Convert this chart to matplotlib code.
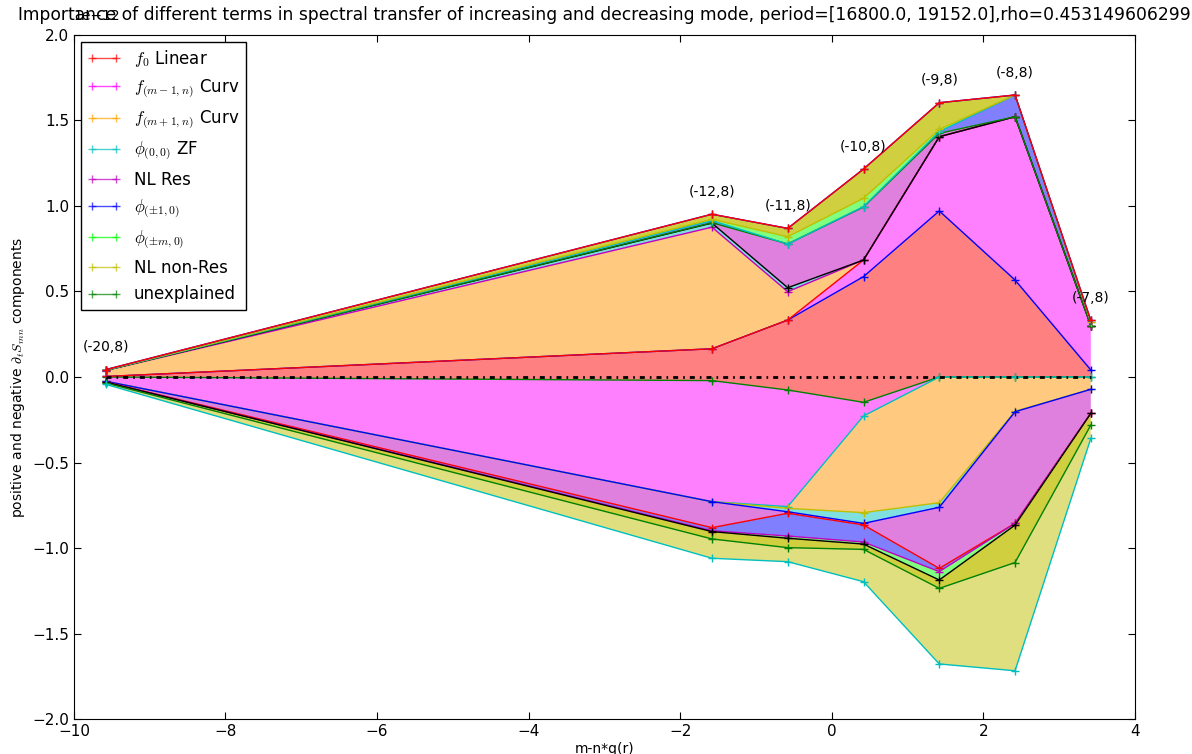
import numpy as np
import matplotlib
matplotlib.use('Agg')
import matplotlib.pyplot as plt
from matplotlib.lines import Line2D

plt.rcParams['mathtext.fontset'] = 'cm'

scale = 1e-12

x = [-9.58, -1.58, -0.58, 0.42, 1.42, 2.42, 3.42]
mode_labels = ['(-20,8)', '(-12,8)', '(-11,8)', '(-10,8)', '(-9,8)', '(-8,8)', '(-7,8)']

term_names = [r'$f_0$ Linear', r'$f_{(m-1,n)}$ Curv', r'$f_{(m+1,n)}$ Curv',
              r'$\phi_{(0,0)}$ ZF', 'NL Res', r'$\phi_{(\pm1,0)}$',
              r'$\phi_{(\pm m,0)}$', 'NL non-Res', 'unexplained']

# positive contributions (units of 1e-12)
pos_linear = [0.003, 0.165, 0.333, 0.587, 0.971, 0.567, 0.041]
pos_curv_m1 = [0.0, 0.0, 0.0, 0.097, 0.434, 0.955, 0.26]
pos_curv_p1 = [0.035, 0.711, 0.166, 0.0, 0.0, 0.0, 0.0]
pos_zf = [0.001, 0.024, 0.023, 0.0, 0.0, 0.0, 0.0]
pos_nl_res = [0.0, 0.002, 0.256, 0.31, 0.02, 0.0, 0.0]
pos_phi_1 = [0.001, 0.012, 0.0, 0.002, 0.01, 0.127, 0.02]
pos_phi_m = [0.001, 0.008, 0.042, 0.049, 0.013, 0.0, 0.0]
pos_nl_nonres = [0.002, 0.03, 0.049, 0.171, 0.156, 0.0, 0.01]
pos_unexpl = [0.0, 0.0, 0.0, 0.0, 0.0, 0.0, 0.0]

# negative contributions (units of 1e-12)
neg_linear = [0.0, -0.021, -0.076, -0.148, 0.0, 0.0, 0.0]
neg_curv_m1 = [-0.025, -0.708, -0.682, -0.08, 0.0, 0.0, 0.0]
neg_curv_p1 = [0.0, 0.0, -0.01, -0.565, -0.735, -0.2, -0.072]
neg_zf = [0.0, 0.0, -0.02, -0.063, -0.027, -0.003, 0.0]
neg_nl_res = [-0.004, -0.152, -0.009, -0.009, -0.357, -0.653, -0.14]
neg_phi_1 = [-0.001, -0.018, -0.133, -0.1, -0.019, 0.0, 0.0]
neg_phi_m = [0.0, -0.005, -0.013, -0.012, -0.049, -0.01, 0.0]
neg_nl_nonres = [-0.005, -0.043, -0.055, -0.031, -0.049, -0.219, -0.069]
neg_unexpl = [-0.008, -0.113, -0.082, -0.189, -0.442, -0.633, -0.078]

pos_terms = [pos_linear, pos_curv_m1, pos_curv_p1, pos_zf, pos_nl_res,
             pos_phi_1, pos_phi_m, pos_nl_nonres, pos_unexpl]
neg_terms = [neg_linear, neg_curv_m1, neg_curv_p1, neg_zf, neg_nl_res,
             neg_phi_1, neg_phi_m, neg_nl_nonres, neg_unexpl]

legend_colors = ['#FF0000', '#FF00FF', '#FFA500', '#00BFBF', '#BF00BF',
                 '#0000FF', '#00FF00', '#BFBF00', '#008000']
fill_colors = ['#FF8080', '#FF80FF', '#FFCA80', '#80DFDF', '#DF80DF',
               '#8080FF', '#80FF80', '#CFCF40', '#DFDF80']
# boundary lines come out of the old bgrcmyk cycle
cyc = {'b': '#0000FF', 'g': '#008000', 'r': '#FF0000', 'c': '#00BFBF',
       'm': '#BF00BF', 'y': '#BFBF00', 'k': '#000000'}
pos_line_colors = ['b', 'r', 'm', 'k', 'g', 'c', 'y', 'b', 'r']
neg_line_colors = ['g', 'c', 'y', 'b', 'r', 'm', 'k', 'g', 'c']

xa = np.array(x)
pos_cum = np.cumsum(np.array(pos_terms), axis=0) * scale
neg_cum = np.cumsum(np.array(neg_terms), axis=0) * scale
zero = np.zeros(len(x))

fig = plt.figure(figsize=(11.92, 7.54), dpi=100)
ax = fig.add_subplot(111)
fig.subplots_adjust(left=0.062, right=0.952, top=0.9536, bottom=0.0464)

for i in range(len(pos_terms)):
    lo_p = zero if i == 0 else pos_cum[i - 1]
    lo_n = zero if i == 0 else neg_cum[i - 1]
    ax.fill_between(xa, lo_p, pos_cum[i], facecolor=fill_colors[i], edgecolor='none')
    ax.fill_between(xa, lo_n, neg_cum[i], facecolor=fill_colors[i], edgecolor='none')

for i in range(len(pos_terms)):
    ax.plot(xa, pos_cum[i], '-', marker='+', color=cyc[pos_line_colors[i]], lw=1, ms=6, mew=1)
    ax.plot(xa, neg_cum[i], '-', marker='+', color=cyc[neg_line_colors[i]], lw=1, ms=6, mew=1)

ax.plot(xa, zero, color='k', lw=2, linestyle=(0, (1.8, 1.8, 0.6, 1.8)))

tops = pos_cum[-1] / scale
for xi, t, lab in zip(x, tops, mode_labels):
    ax.text(xi, (t + 0.13) * scale, lab, ha='center', va='center', fontsize=10)

ax.set_xlim(-10, 4)
ax.set_ylim(-2e-12, 2e-12)
ax.set_xticks(np.arange(-10, 5, 2))
ax.set_yticks(np.arange(-2.0, 2.01, 0.5) * scale)
ax.tick_params(direction='in', top=True, right=True, labelsize=11, length=5)
ax.yaxis.OFFSETTEXTPAD = 11
ax.set_xlabel('m-n*q(r)', fontsize=10, labelpad=2)
ax.set_ylabel(r'positive and negative $\partial_t S_{mn}$ components', fontsize=10)
ax.set_title('Importance of different terms in spectral transfer of increasing and decreasing mode, '
             'period=[16800.0, 19152.0],rho=0.453149606299', fontsize=12.35, y=1.0, pad=11)

handles = [Line2D([0], [0], color=c, marker='+', lw=1, ms=6, alpha=0.7) for c in legend_colors]
leg = ax.legend(handles, term_names, loc='upper left', fontsize=12, numpoints=2,
                fancybox=False, framealpha=1, edgecolor='k', labelspacing=0.5,
                handlelength=2.0, handletextpad=0.8, borderaxespad=0.4)
leg.get_frame().set_linewidth(1)

fig.savefig('out.png', dpi=100)
